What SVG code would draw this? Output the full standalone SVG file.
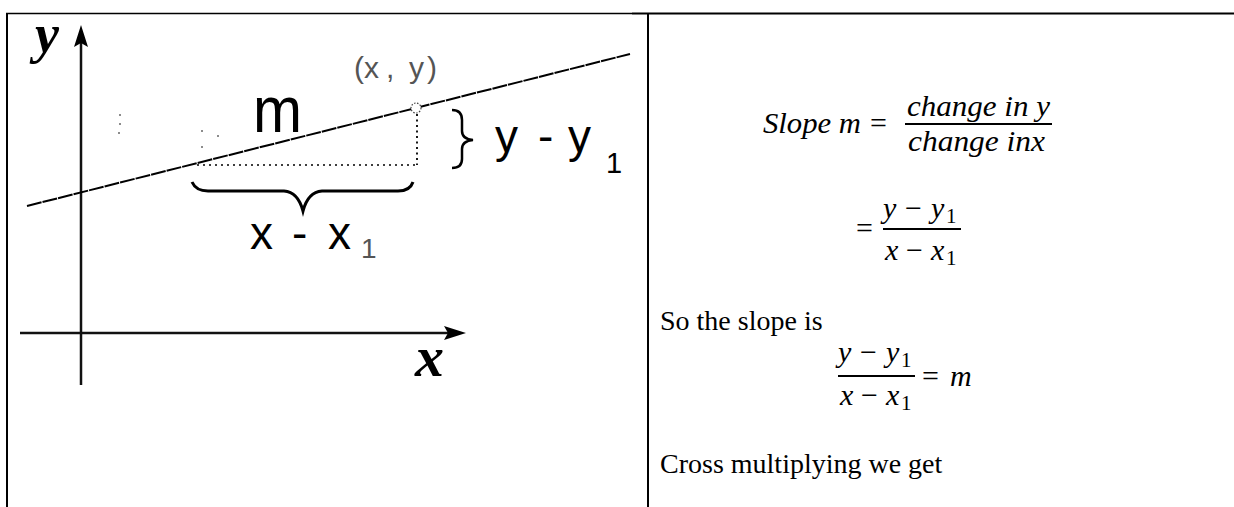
<svg xmlns="http://www.w3.org/2000/svg" width="1234" height="507" viewBox="0 0 1234 507">
<defs>
<style>
.border{stroke:#000;fill:none}
.axis{stroke:#111;stroke-width:2.5;fill:none}
.sans{font-family:"Liberation Sans",Arial,sans-serif;fill:#000}
.bold{font-family:"Liberation Serif","Times New Roman",serif;font-weight:bold;font-style:italic;fill:#000}
.mi{font-family:"Liberation Serif","Times New Roman",serif;font-style:italic;font-size:30px;fill:#000}
.mu{font-family:"Liberation Serif","Times New Roman",serif;font-size:30px;fill:#000}
.sub{font-family:"Liberation Serif","Times New Roman",serif;font-size:21px;fill:#000}
.txt{font-family:"Liberation Serif","Times New Roman",serif;font-size:28px;fill:#000}
.bar{stroke:#000;stroke-width:2}
.dot{fill:#666}
</style>
<marker id="arrow" viewBox="0 0 22 14" refX="12" refY="7" markerWidth="22" markerHeight="14" markerUnits="userSpaceOnUse" orient="auto">
<path d="M0,0 L22,7 L0,14 L4,7 Z" fill="#000"/>
</marker>
</defs>
<rect width="1234" height="507" fill="#fff"/>

<g id="table">
<line class="border" x1="6" y1="13.5" x2="632" y2="13.5" stroke-width="1.3"/>
<line class="border" x1="632" y1="13.5" x2="1234" y2="13.5" stroke-width="2"/>
<line class="border" x1="7" y1="13" x2="7" y2="507" stroke-width="2"/>
<line class="border" x1="648" y1="13" x2="648" y2="507" stroke-width="2"/>
</g>

<g id="connectors">
<line id="y-axis" class="axis" x1="81" y1="385" x2="81" y2="35" marker-end="url(#arrow)"/>
<line id="x-axis" class="axis" x1="20" y1="333" x2="456" y2="333" marker-end="url(#arrow)"/>
<line id="slope-line" x1="27" y1="206" x2="630" y2="54" stroke="#000" stroke-width="2" stroke-dasharray="15 1"/>
<line id="run" x1="197" y1="165" x2="417" y2="165" stroke="#000" stroke-width="1.6" stroke-dasharray="2 4"/>
<line id="rise" x1="417" y1="114" x2="417" y2="165" stroke="#000" stroke-width="1.8" stroke-dasharray="2 3.5"/>
<circle id="point" cx="416" cy="108" r="5" fill="#fff" stroke="#444" stroke-width="1.2" stroke-dasharray="1.5 1.5"/>
<path id="brace-bottom" d="M192,182 Q196,191 208,191 L284,191 Q298,192 303,211 Q308,192 322,191 L398,191 Q410,191 413,182" fill="none" stroke="#000" stroke-width="3"/>
<path id="brace-right" d="M452,110 Q462,110 462,120 L462,131 Q462,139 473,140 Q462,141 462,149 L462,159 Q462,168 452,168" fill="none" stroke="#000" stroke-width="2.5"/>
</g>

<g id="graph-labels">
<text class="bold" x="35" y="52" font-size="54">y</text>
<text class="bold" x="415" y="376" font-size="58">x</text>
<text class="sans" x="253" y="132" font-size="64" textLength="49" lengthAdjust="spacingAndGlyphs">m</text>
<text class="sans" x="354 364 386 395 409 427" y="78" font-size="30" style="fill:#555">(x, y)</text>
<text class="sans" x="495 538 568" y="152" font-size="46">y-y</text>
<text class="sans" x="606" y="173" font-size="29">1</text>
<text class="sans" x="250 292 328" y="249" font-size="46">x-x</text>
<text class="sans" x="361" y="258" font-size="28" style="fill:#555">1</text>
<circle class="dot" cx="120" cy="115" r="1"/>
<circle class="dot" cx="120" cy="124" r="1"/>
<circle class="dot" cx="119" cy="133" r="1"/>
<circle class="dot" cx="202" cy="131" r="1"/>
<circle class="dot" cx="202" cy="147" r="1"/>
<circle class="dot" cx="218" cy="136" r="1"/>
</g>

<g id="eq1">
<text class="mi" x="763" y="133" textLength="98" lengthAdjust="spacingAndGlyphs">Slope m</text>
<text class="mu" x="870" y="133">=</text>
<text class="mi" x="907" y="116" textLength="143" lengthAdjust="spacingAndGlyphs">change in y</text>
<line class="bar" x1="905" y1="124" x2="1052" y2="124"/>
<text class="mi" x="908" y="151" textLength="137" lengthAdjust="spacingAndGlyphs">change inx</text>
</g>

<g id="eq2">
<text class="mu" x="856" y="238">=</text>
<text class="mi" x="883" y="218">y</text>
<text class="mu" x="905" y="218">−</text>
<text class="mi" x="931" y="218">y</text>
<text class="sub" x="946" y="223">1</text>
<line class="bar" x1="883" y1="229" x2="961" y2="229"/>
<text class="mi" x="885" y="260">x</text>
<text class="mu" x="906" y="260">−</text>
<text class="mi" x="931" y="260">x</text>
<text class="sub" x="946" y="265">1</text>
</g>

<g id="text1">
<text class="txt" x="660" y="330">So the slope is</text>
</g>

<g id="eq3">
<text class="mi" x="838" y="362">y</text>
<text class="mu" x="860" y="362">−</text>
<text class="mi" x="886" y="362">y</text>
<text class="sub" x="901" y="367">1</text>
<line class="bar" x1="838" y1="376" x2="915" y2="376"/>
<text class="mi" x="840" y="405">x</text>
<text class="mu" x="861" y="405">−</text>
<text class="mi" x="886" y="405">x</text>
<text class="sub" x="901" y="410">1</text>
<text class="mu" x="922" y="386">=</text>
<text class="mi" x="950" y="386">m</text>
</g>

<g id="text2">
<text class="txt" x="660" y="473">Cross multiplying we get</text>
</g>
</svg>
